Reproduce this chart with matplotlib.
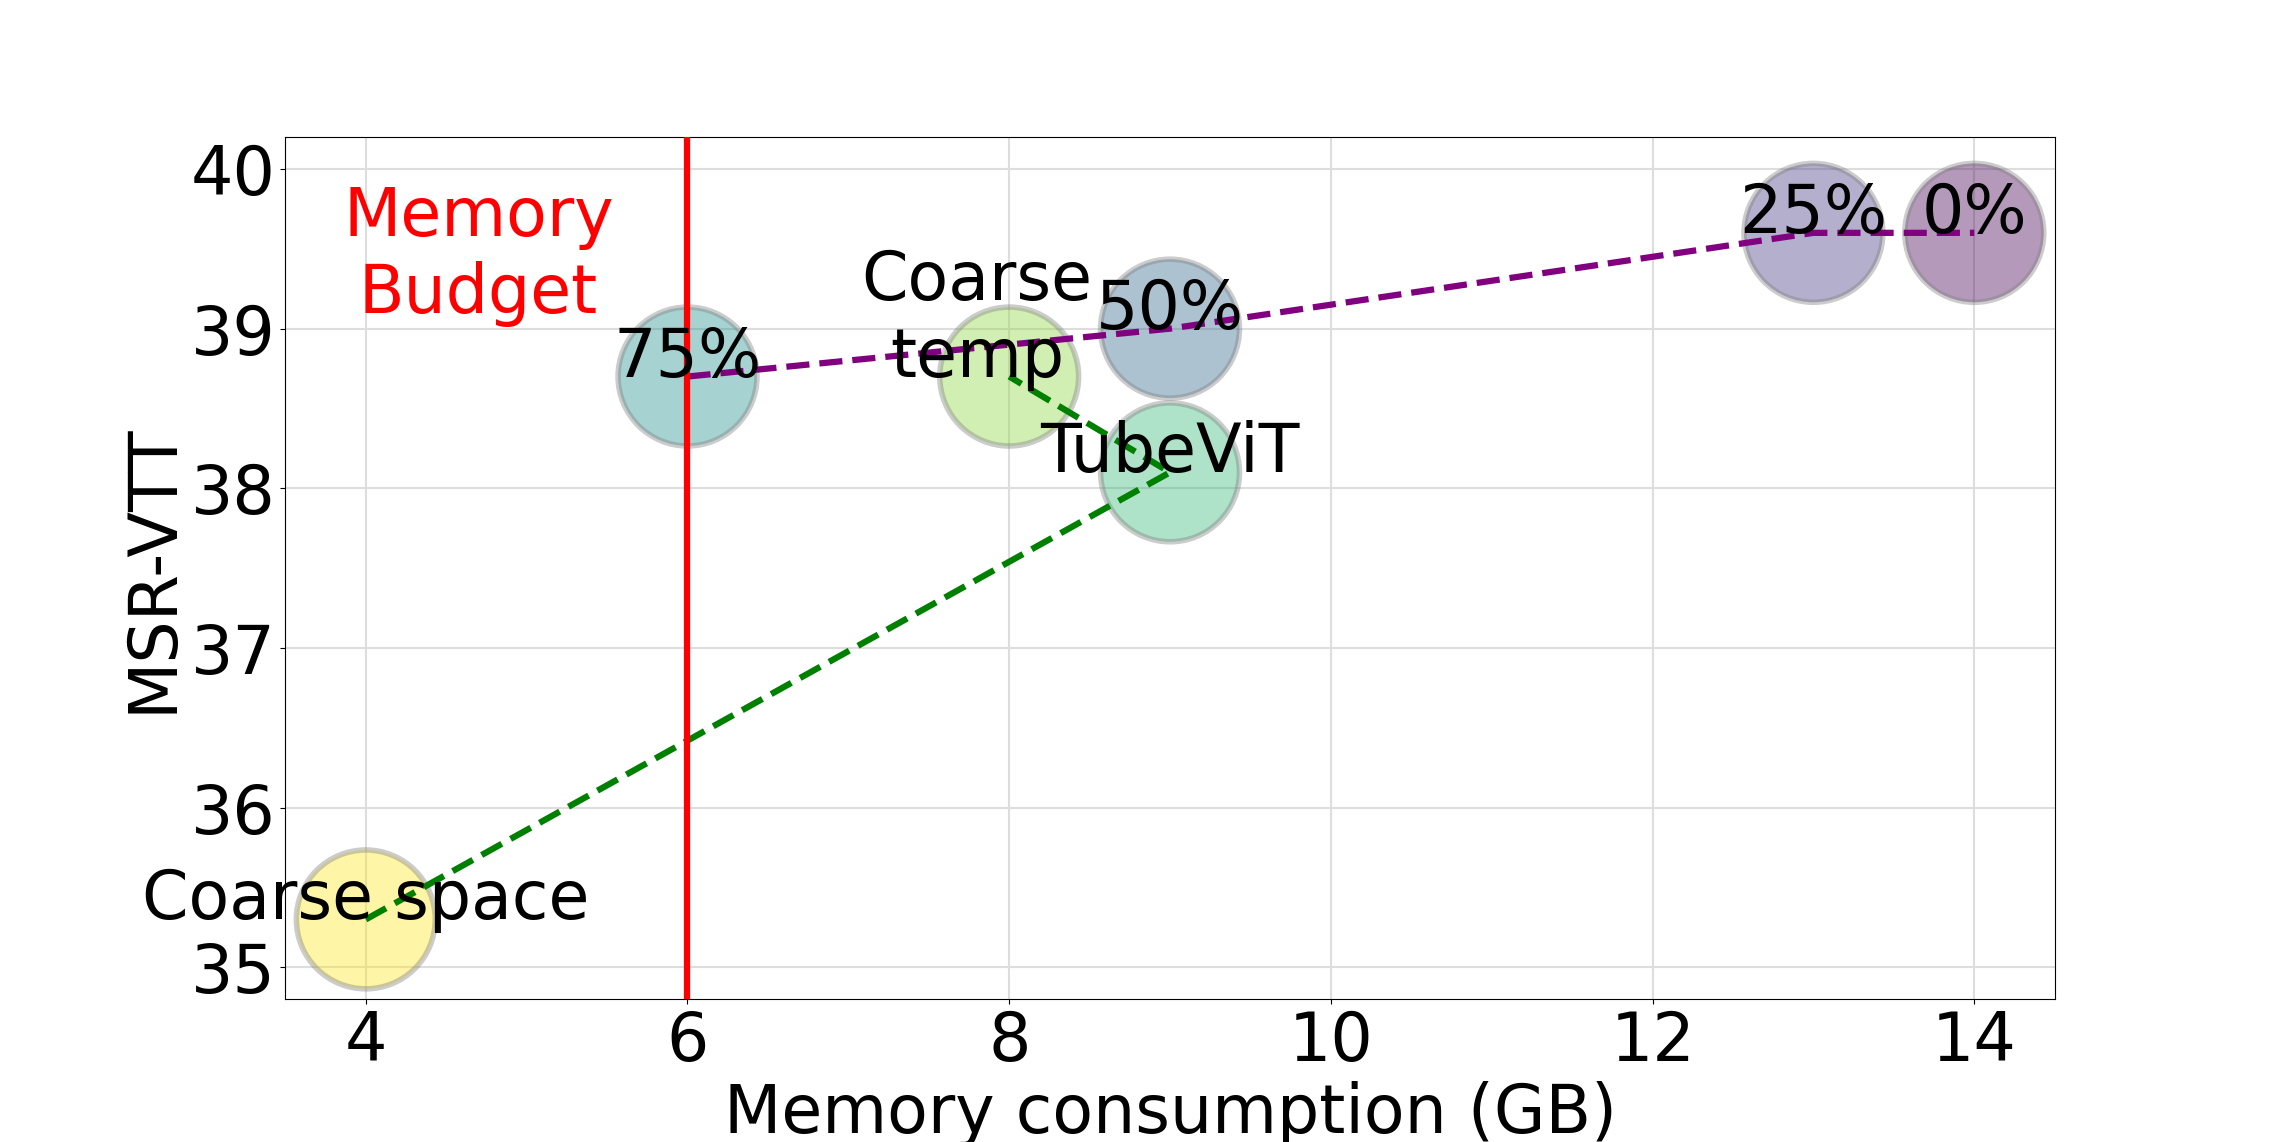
import matplotlib
matplotlib.use('Agg')
import matplotlib.pyplot as plt
import numpy as np

# bubble data: memory (GB) vs MSR-VTT score
labels = ['0%', '25%', '50%', '75%', 'TubeViT', 'Coarse\ntemp', 'Coarse space']
memory = [14, 13, 9, 6, 9, 8, 4]
msrvtt = [39.6, 39.6, 39.0, 38.7, 38.1, 38.7, 35.3]
label_x = [14, 13, 9, 6, 9, 7.8, 4]

# dashed connections
drop_mem = [6, 9, 13, 14]
drop_acc = [38.7, 39.0, 39.6, 39.6]
coarse_mem = [4, 9, 8]
coarse_acc = [35.3, 38.1, 38.7]

budget = 6

fig, ax = plt.subplots(figsize=(22.83, 11.42), dpi=100)
fig.subplots_adjust(left=0.125, right=0.9, top=0.88, bottom=0.125)

ax.grid(True, color='#dddddd', linewidth=1.5, zorder=0)
ax.set_axisbelow(True)

ax.scatter(memory, msrvtt, s=10000, c=np.arange(len(memory)), cmap='viridis',
           alpha=0.4, edgecolors='grey', linewidths=4, zorder=2)

ax.plot(drop_mem, drop_acc, '--', color='purple', linewidth=4.5, zorder=3)
ax.plot(coarse_mem, coarse_acc, '--', color='green', linewidth=4.5, zorder=3)

ax.axvline(budget, color='red', linewidth=4.5, zorder=3)
ax.text(4.7, 39.1, 'Memory\nBudget', color='red', fontsize=48,
        ha='center', va='baseline', zorder=4)

for lx, y, lab in zip(label_x, msrvtt, labels):
    ax.text(lx, y, lab, fontsize=48, ha='center', va='baseline', zorder=4)

ax.set_xlim(3.5, 14.5)
ax.set_ylim(34.8, 40.2)
ax.set_xticks([4, 6, 8, 10, 12, 14])
ax.set_yticks([35, 36, 37, 38, 39, 40])
ax.tick_params(labelsize=48)
ax.set_xlabel('Memory consumption (GB)', fontsize=48)
ax.set_ylabel('MSR-VTT', fontsize=48)

plt.savefig('out.png')
